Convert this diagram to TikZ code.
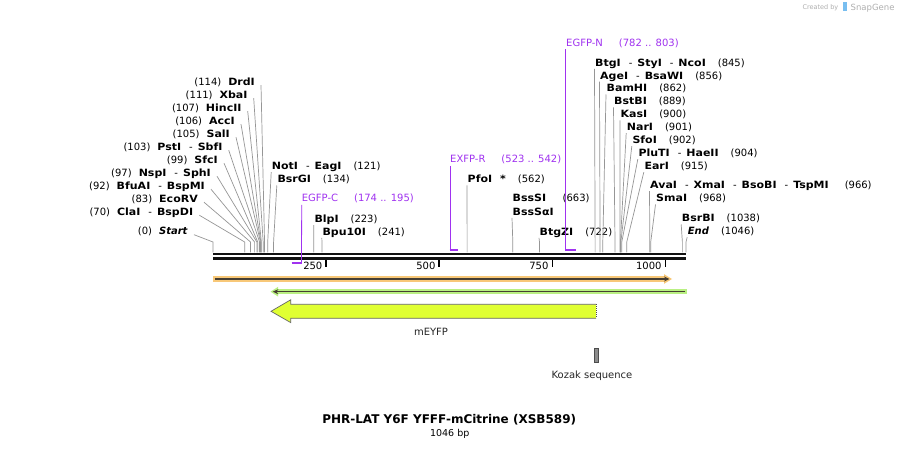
\documentclass[tikz,border=0pt]{standalone}
\usepackage{fontspec}
\setmainfont{DejaVu Sans}[BoldFeatures={FakeStretch=1.1}]
\newfontfamily\titlefont{DejaVu Sans}
\usetikzlibrary{arrows.meta}
\definecolor{primpurple}{RGB}{160,50,240}
\definecolor{orlight}{RGB}{248,200,120}
\definecolor{grlight}{RGB}{185,240,130}
\definecolor{featdark}{RGB}{70,62,50}
\definecolor{eyfp}{RGB}{224,255,51}
\definecolor{leadgray}{RGB}{150,150,150}
\definecolor{credgray}{RGB}{175,175,175}
\definecolor{snapblue}{RGB}{120,190,240}
\newcommand{\mysep}{\hspace{8pt}-\hspace{5pt}}
\newcommand{\ngap}{\hspace{12pt}}
\newcommand{\lgap}{\hspace{7pt}}
\newcommand{\LLab}[5]{%
  \node[lab, anchor=base east] (#1) at (#3,#2+3.7) {#4};
  \coordinate (#1k) at (#5,242);
  \coordinate (#1c) at (#5,252.5);
  \draw[leader] ([xshift=6pt]#1.base east) -- (#1k) -- (#1c);
}
\newcommand{\RLab}[5]{%
  \node[lab, anchor=base west] (#1) at (#3,#2+3.7) {#4};
  \coordinate (#1k) at (#5,242);
  \coordinate (#1c) at (#5,252.5);
  \draw[leader] ([xshift=-0.5pt,yshift=-2.5pt]#1.base west) -- (#1k) -- (#1c);
}
\tikzset{
  lab/.style={inner sep=0pt, font=\fontsize{10}{12}\selectfont, text=black},
  plab/.style={inner sep=0pt, font=\fontsize{10}{12}\selectfont, text=primpurple, anchor=base west},
  leader/.style={draw=leadgray, line width=0.7pt},
  pline/.style={draw=primpurple, line width=0.8pt},
  pbar/.style={draw=primpurple, line width=2pt},
  backbone/.style={draw=black!93, line width=2.6pt},
  tick/.style={draw=black, line width=1.3pt},
  ticklab/.style={inner sep=0pt, font=\fontsize{10}{12}\selectfont, anchor=base east},
}
\begin{document}
\begin{tikzpicture}[x=1pt,y=-1pt]
\useasboundingbox (0,0) rectangle (900,449);
\fill[white] (0,0) rectangle (900,449);

% credit
\node[inner sep=0pt, anchor=base east, text=credgray, font=\fontsize{6.5}{8}\selectfont] (cred) at (838.5,10) {Created by};
\fill[snapblue] (842.5,2.5) rectangle (846.5,11.5);
\node[inner sep=0pt, anchor=base west, text=credgray, font=\fontsize{8.5}{10}\selectfont] (snap) at (850.5,10.5) {SnapGene};

% backbone
\coordinate (bbL1) at (213,254);
\coordinate (bbR1) at (686,254);
\coordinate (bbL2) at (213,258.7);
\coordinate (bbR2) at (686,258.7);
\draw[backbone] (bbL1) -- (bbR1);
\draw[backbone] (bbL2) -- (bbR2);

% ticks
\foreach \p/\v in {326.05/250, 439.1/500, 552.15/750, 665.2/1000}{
  \coordinate (t\v a) at (\p,260.5);
  \coordinate (t\v b) at (\p,266.7);
  \draw[tick] (t\v a) -- (t\v b);
  \node[ticklab] (tl\v) at (\p-3.5,269.7) {\v};
}

% left labels
\LLab{drd}{81.5}{255}{(114)\lgap\textbf{DrdI}}{264.55}
\LLab{xba}{94.5}{247.7}{(111)\lgap\textbf{XbaI}}{263.19}
\LLab{hinc}{107.5}{241.7}{(107)\lgap\textbf{HincII}}{261.39}
\LLab{acc}{120.5}{235}{(106)\lgap\textbf{AccI}}{260.93}
\LLab{sal}{133.5}{230}{(105)\lgap\textbf{SalI}}{260.48}
\LLab{pst}{146.5}{222.7}{(103)\lgap\textbf{PstI}\mysep\textbf{SbfI}}{259.58}
\LLab{sfc}{159.5}{218}{(99)\lgap\textbf{SfcI}}{257.77}
\LLab{nsp}{172.5}{211}{(97)\lgap\textbf{NspI}\mysep\textbf{SphI}}{256.86}
\LLab{bfu}{185.5}{205}{(92)\lgap\textbf{BfuAI}\mysep\textbf{BspMI}}{254.60}
\LLab{eco}{198.5}{198}{(83)\lgap\textbf{EcoRV}}{250.53}
\LLab{cla}{211.5}{193.3}{(70)\lgap\textbf{ClaI}\mysep\textbf{BspDI}}{244.65}
\LLab{start}{231}{188}{(0)\lgap\textbf{\textit{Start}}}{213}

% right labels
\RLab{not}{166}{271.7}{\textbf{NotI}\mysep\textbf{EagI}\ngap(121)}{267.72}
\RLab{bsrg}{179.3}{277.3}{\textbf{BsrGI}\ngap(134)}{273.59}
\RLab{blp}{219}{314.3}{\textbf{BlpI}\ngap(223)}{313.84}
\RLab{bpu}{231.7}{322.3}{\textbf{Bpu10I}\ngap(241)}{321.98}
\RLab{pfo}{179.3}{467.5}{\textbf{PfoI}\hspace{8pt}\textbf{*}\ngap(562)}{467.14}
\node[lab, anchor=base west] (bsss) at (512.5,202) {\textbf{BssSI}};
\node[lab, anchor=base west] (bssn) at (562.5,202) {(663)};
\RLab{bssa}{211.7}{512.5}{\textbf{BssSαI}}{512.81}
\RLab{btgz}{231.7}{539.5}{\textbf{BtgZI}\ngap(722)}{539.49}
\RLab{btg}{62.7}{595}{\textbf{BtgI}\mysep\textbf{StyI}\mysep\textbf{NcoI}\ngap(845)}{595.11}
\RLab{age}{75.5}{600}{\textbf{AgeI}\mysep\textbf{BsaWI}\ngap(856)}{600.08}
\RLab{bam}{88.3}{606.5}{\textbf{BamHI}\ngap(862)}{602.80}
\RLab{bstb}{101.2}{614}{\textbf{BstBI}\ngap(889)}{615.01}
\RLab{kas}{114.1}{620.5}{\textbf{KasI}\ngap(900)}{619.98}
\RLab{nar}{127}{626.7}{\textbf{NarI}\ngap(901)}{620.43}
\RLab{sfo}{140}{632.3}{\textbf{SfoI}\ngap(902)}{620.88}
\RLab{plu}{153}{638.3}{\textbf{PluTI}\mysep\textbf{HaeII}\ngap(904)}{621.79}
\RLab{ear}{166}{644.3}{\textbf{EarI}\ngap(915)}{626.76}
\RLab{ava}{185}{650}{\textbf{AvaI}\mysep\textbf{XmaI}\mysep\textbf{BsoBI}\mysep\textbf{TspMI}\hspace{16pt}(966)}{649.83}
\RLab{sma}{198.3}{656}{\textbf{SmaI}\ngap(968)}{650.73}
\RLab{bsrb}{218.3}{681.7}{\textbf{BsrBI}\ngap(1038)}{682.38}
\RLab{endl}{231}{687.7}{\textbf{\textit{End}}\ngap(1046)}{686}

% primers
\node[plab] (egfpc) at (301.7,202) {EGFP-C\hspace{16pt}(174 .. 195)};
\coordinate (egfpcS) at (291.7,263.5);
\coordinate (egfpcE) at (301.5,263.5);
\draw[pline] ([yshift=-2.8pt]egfpc.base west) -- (egfpcE);
\draw[pbar] (egfpcS) -- (egfpcE);

\node[plab] (exfpr) at (450,163) {EXFP-R\hspace{16pt}(523 .. 542)};
\coordinate (exfprS) at (450,249.8);
\coordinate (exfprE) at (458.1,249.8);
\draw[pline] ([yshift=-2.8pt]exfpr.base west) -- (exfprS);
\draw[pbar] ([xshift=-0.4pt]exfprS) -- (exfprE);

\node[plab] (egfpn) at (566,46.4) {EGFP-N\hspace{16pt}(782 .. 803)};
\coordinate (egfpnS) at (565.8,249.8);
\coordinate (egfpnE) at (576.1,249.8);
\draw[pline] ([xshift=-0.2pt,yshift=-2.8pt]egfpn.base west) -- (egfpnS);
\draw[pbar] ([xshift=-0.4pt]egfpnS) -- (egfpnE);

% orange feature
\coordinate (orL) at (213,279);
\coordinate (orR) at (666,279);
\coordinate (orT) at (669.5,279);
\draw[orlight, line width=5.5pt] (orL) -- (orR);
\fill[orlight] (664,274.2) -- (672,279) -- (664,283.8) -- cycle;
\draw[featdark, line width=1.5pt, -{Stealth[length=5.5pt,width=5pt]}] ([xshift=1.5pt]orL) -- (orT);

% green feature
\coordinate (grL) at (276,291.7);
\coordinate (grR) at (686.5,291.7);
\coordinate (grT) at (272.8,291.7);
\draw[grlight, line width=5.5pt] (grR) -- (grL);
\fill[grlight] (278,286.9) -- (270.5,291.7) -- (278,296.5) -- cycle;
\draw[featdark, line width=1.5pt, -{Stealth[length=5.5pt,width=5pt]}] ([xshift=-1.5pt]grR) -- (grT);

% mEYFP arrow
\coordinate (yfA) at (596,304.3);
\coordinate (yfB) at (596,318.3);
\draw[fill=eyfp, draw=black!60, line width=0.7pt]
  (yfA) -- (290.7,304.3) -- (290.7,299.8) -- (271,311.3) -- (290.7,322.6) -- (290.7,318.3) -- (yfB);
\draw[white, line width=1pt] (yfA) -- (yfB);
\draw[black!70, line width=1pt, dash pattern=on 1pt off 1pt] (yfA) -- (yfB);
\node[lab, anchor=base, text=black!85] (yfpl) at (431,335.3) {mEYFP};

% Kozak
\draw[fill=black!45, draw=black!70, line width=0.6pt] (594.4,348.4) rectangle (598.6,362.2);
\node[lab, anchor=base, text=black!85] (kozl) at (592,378.7) {Kozak sequence};

% title
\node[inner sep=0pt, anchor=base, font=\titlefont\fontsize{12}{14}\selectfont\bfseries] (title) at (449.2,423.7) {PHR-LAT Y6F YFFF-mCitrine (XSB589)};
\node[inner sep=0pt, anchor=base, font=\fontsize{9.5}{11}\selectfont] (bp) at (449.7,436.2) {1046 bp};
\end{tikzpicture}
\end{document}
